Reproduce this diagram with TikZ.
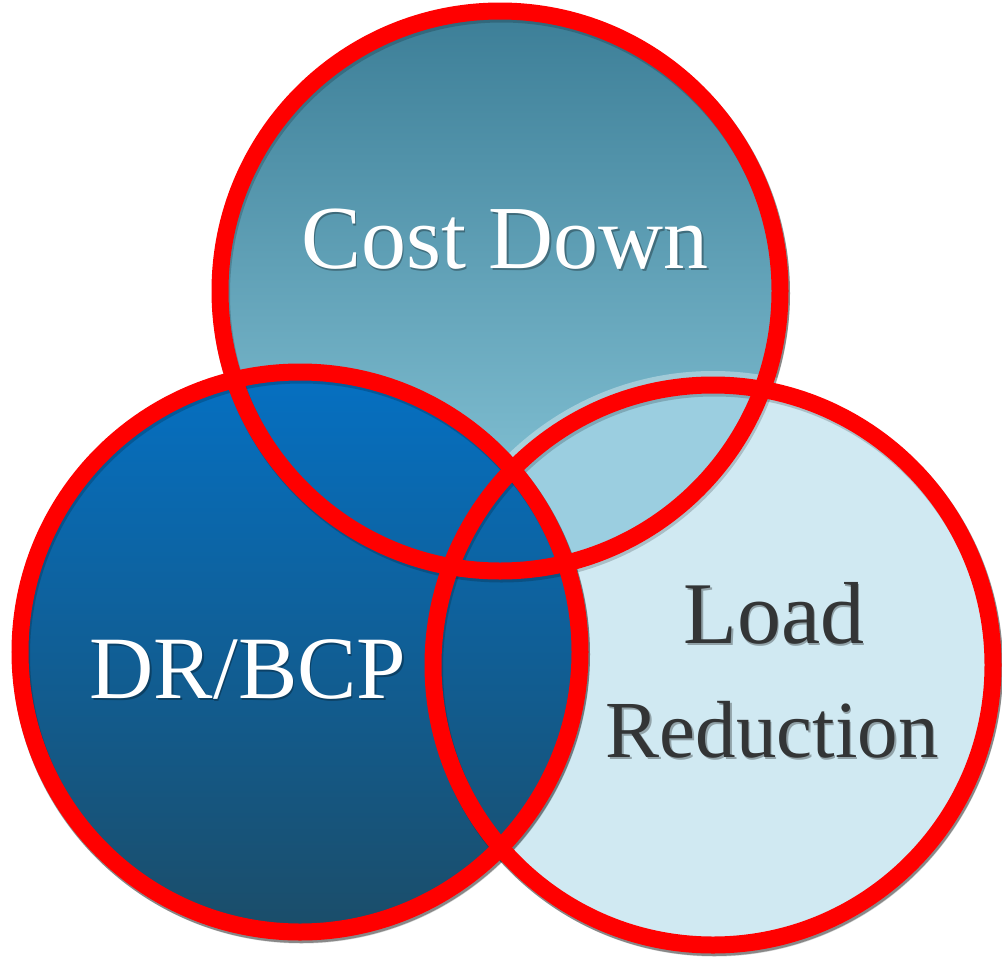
\documentclass[tikz,border=0pt]{standalone}
\usepackage{fontspec}
\setmainfont{Liberation Serif}
\usetikzlibrary{calc}
\definecolor{ringred}{HTML}{FF0000}
\definecolor{topA}{HTML}{3C7E97}
\definecolor{topB}{HTML}{8CCADC}
\definecolor{leftA}{HTML}{0570C2}
\definecolor{leftB}{HTML}{1B4D69}
\definecolor{rightfill}{HTML}{D0E9F2}
\definecolor{overlapfill}{HTML}{9BCEE0}
\definecolor{labelgray}{HTML}{333536}
\tikzset{
  disc/.style={circle, inner sep=0pt, outer sep=0pt, minimum size=280pt, draw=none},
  ring/.style={draw=ringred, line width=8.5pt},
  ringshadow/.style={draw=black, opacity=0.18, line width=8.5pt},
  discshadow/.style={fill=black, opacity=0.35},
  lbl/.style={inner sep=0pt, anchor=base},
}
\newcommand{\shadowtext}[5]{%
  % #1 name, #2 position, #3 colour, #4 font size, #5 text
  \node[lbl, text=black, opacity=0.3] at ($#2+(1.5,2)$) {\fontsize{#4}{#4}\selectfont #5};
  \node[lbl, text=#3] (#1) at #2 {\fontsize{#4}{#4}\selectfont #5};
}
\begin{document}
\begin{tikzpicture}[x=0.5pt, y=-0.5pt]
  \useasboundingbox (0,0) rectangle (1002,959);

  % top disc
  \fill[discshadow] (501,293) circle[radius=144.5pt];
  \node[disc, top color=topA, bottom color=topB] (top) at (500,291) {};

  % right disc with a soft light rim
  \fill[white, opacity=0.35] (713,665) circle[radius=147pt];
  \fill[discshadow] (714,667) circle[radius=144.5pt];
  \node[disc, fill=rightfill] (right) at (713,665) {};
  \begin{scope}
    \clip (top.center) circle[radius=140pt];
    \fill[overlapfill] (right.center) circle[radius=140pt];
  \end{scope}

  % left disc
  \fill[discshadow] (301,654) circle[radius=144.5pt];
  \node[disc, top color=leftA, bottom color=leftB] (left) at (300,652) {};

  % soft shadows under the rings, then the red rings over all fills
  \draw[ringshadow] ($(top.center)+(1.5,3)$) circle[radius=140pt];
  \draw[ringshadow] ($(right.center)+(1.5,3)$) circle[radius=140pt];
  \draw[ringshadow] ($(left.center)+(1.5,3)$) circle[radius=140pt];
  \draw[ring] (top.center) circle[radius=140pt];
  \draw[ring] (right.center) circle[radius=140pt];
  \draw[ring] (left.center) circle[radius=140pt];

  % labels
  \shadowtext{tcost}{(505,268)}{white}{45pt}{Cost Down}
  \shadowtext{tdr}{(248,698)}{white}{44.5pt}{DR/BCP}
  \shadowtext{tload}{(774,643)}{labelgray}{44pt}{Load}
  \shadowtext{tred}{(772,757)}{labelgray}{40.5pt}{Reduction}
\end{tikzpicture}
\end{document}
